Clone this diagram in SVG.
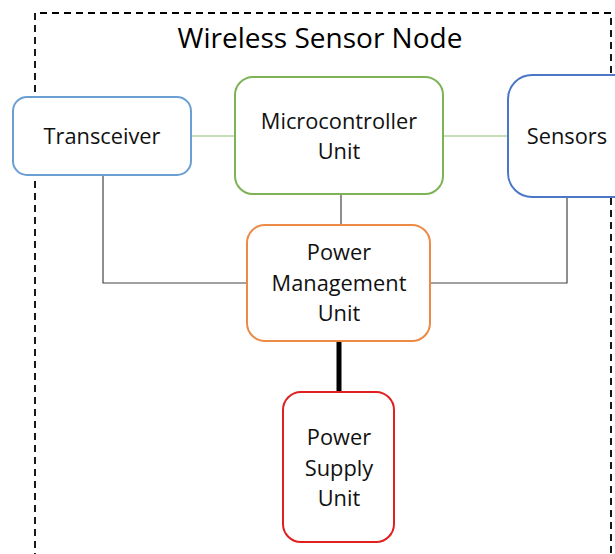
<svg xmlns="http://www.w3.org/2000/svg" width="615" height="554" viewBox="0 0 615 554">
  <style>
    .box { fill: #ffffff; stroke-width: 2; }
    .lbl { font-family: "Open Sans", "Liberation Sans", sans-serif; font-size: 21.8px; fill: #111111; text-anchor: middle; }
    .title { font-family: "Open Sans", "Liberation Sans", sans-serif; font-size: 28px; fill: #000000; text-anchor: middle; }
    .thin { fill: none; stroke: #444444; stroke-width: 1.2; }
    .green { fill: none; stroke: #8cc06a; stroke-width: 1.2; }
  </style>
  <rect width="615" height="554" fill="#ffffff"/>

  <!-- enclosing node boundary -->
  <g id="boundary">
    <path d="M35 560 V13 H611 V560" fill="none" stroke="#000000" stroke-width="1.8" stroke-dasharray="7,5"/>
    <text class="title" x="320" y="48">Wireless Sensor Node</text>
  </g>

  <!-- connectors -->
  <g id="connectors">
    <line class="green" x1="191" y1="136" x2="235" y2="136"/>
    <line class="green" x1="443" y1="136" x2="508" y2="136"/>
    <line class="thin" x1="341" y1="194" x2="341" y2="225"/>
    <polyline class="thin" points="103,175 103,283 247,283"/>
    <polyline class="thin" points="567,197 567,283 430,283"/>
    <line x1="339" y1="341" x2="339" y2="392" stroke="#000000" stroke-width="5"/>
  </g>

  <g id="transceiver">
    <rect class="box" x="13" y="97" width="178" height="78" rx="14" stroke="#6a9fd4"/>
    <text class="lbl" x="102" y="144">Transceiver</text>
  </g>

  <g id="mcu">
    <rect class="box" x="235" y="77" width="208" height="117" rx="18" stroke="#7db356"/>
    <text class="lbl" x="339" y="129">Microcontroller</text>
    <text class="lbl" x="339" y="159">Unit</text>
  </g>

  <g id="sensors">
    <rect class="box" x="508" y="75" width="130" height="122" rx="24" stroke="#4a78c6"/>
    <text class="lbl" x="567" y="144">Sensors</text>
  </g>

  <g id="pmu">
    <rect class="box" x="247" y="225" width="183" height="116" rx="18" stroke="#ed8a45"/>
    <text class="lbl" x="339" y="260">Power</text>
    <text class="lbl" x="339" y="291">Management</text>
    <text class="lbl" x="339" y="321">Unit</text>
  </g>

  <g id="psu">
    <rect class="box" x="283" y="392" width="111" height="150" rx="18" stroke="#e02020"/>
    <text class="lbl" x="339" y="445">Power</text>
    <text class="lbl" x="339" y="476">Supply</text>
    <text class="lbl" x="339" y="506">Unit</text>
  </g>
</svg>
